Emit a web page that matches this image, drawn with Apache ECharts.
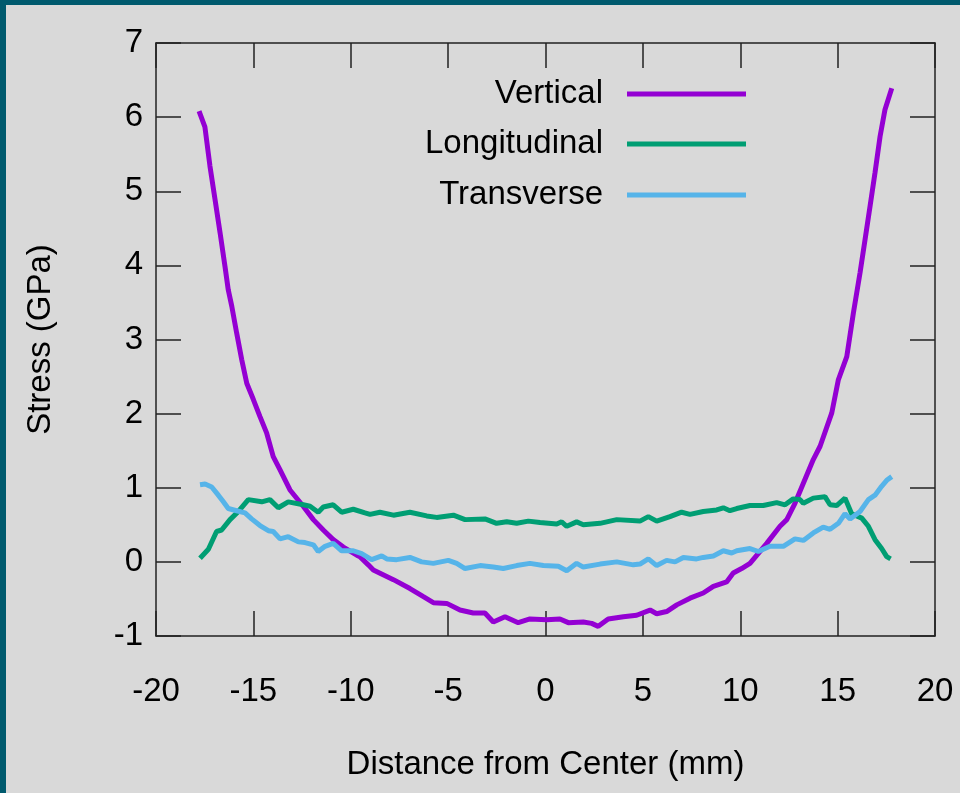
<!DOCTYPE html>
<html>
<head>
<meta charset="utf-8">
<script src="https://cdn.jsdelivr.net/npm/echarts@6/dist/echarts.min.js"></script>
<style>
html,body{margin:0;padding:0;background:#d9d9d9;}
#chart{position:absolute;left:0;top:0;width:960px;height:793px;}
#bl{position:absolute;left:0;top:0;width:6px;height:793px;background:#005a6e;pointer-events:none;}
#bt{position:absolute;left:0;top:0;width:960px;height:5px;background:#005a6e;pointer-events:none;}
</style>
</head>
<body>
<div id="chart"></div>
<div id="bl"></div>
<div id="bt"></div>
<script>
const seriesNames = ['Vertical', 'Longitudinal', 'Transverse'];

const vertX = [-17.79,-17.49,-17.23,-16.97,-16.71,-16.46,-16.29,-16.11,-15.86,-15.60,-15.34,-15.00,-14.66,-14.32,-13.98,-13.63,-13.12,-12.44,-11.92,-11.41,-10.90,-10.38,-9.69,-9.53,-9.10,-8.84,-7.81,-6.96,-6.27,-5.76,-5.07,-4.39,-3.71,-3.11,-2.68,-2.08,-1.40,-0.80,0.06,0.74,1.17,1.94,2.37,2.71,3.22,4.00,4.68,5.37,5.71,6.22,6.74,7.42,8.10,8.62,9.30,9.64,10.07,10.50,11.36,12.04,12.39,12.81,13.24,13.75,14.10,14.70,15.04,15.47,15.81,16.15,16.41,16.66,16.92,17.18,17.43,17.78];
const vertY = [6.08,5.87,5.34,4.89,4.44,3.99,3.67,3.45,3.09,2.73,2.41,2.19,1.96,1.74,1.42,1.24,0.97,0.75,0.57,0.43,0.30,0.20,0.09,0.07,-0.04,-0.11,-0.24,-0.36,-0.47,-0.55,-0.56,-0.65,-0.69,-0.69,-0.81,-0.74,-0.82,-0.77,-0.78,-0.77,-0.82,-0.81,-0.83,-0.87,-0.77,-0.74,-0.72,-0.65,-0.70,-0.67,-0.58,-0.49,-0.42,-0.33,-0.27,-0.15,-0.09,-0.02,0.25,0.48,0.57,0.79,1.06,1.38,1.56,2.01,2.46,2.77,3.36,3.90,4.35,4.79,5.25,5.74,6.10,6.39];

const longX = [-17.74,-17.31,-16.89,-16.63,-16.20,-15.77,-15.26,-14.57,-14.15,-13.72,-13.21,-12.44,-12.09,-11.67,-11.41,-10.90,-10.47,-9.87,-9.27,-9.01,-8.50,-7.81,-6.96,-6.10,-5.59,-4.73,-4.13,-3.11,-2.51,-1.99,-1.48,-0.88,-0.28,0.58,0.83,1.09,1.60,1.94,2.80,3.66,4.85,5.28,5.71,6.39,6.99,7.42,8.10,8.79,9.13,9.47,9.82,10.50,11.18,11.87,12.30,12.72,13.07,13.24,13.75,14.35,14.61,14.95,15.38,15.72,16.24,16.58,16.92,17.26,17.52,17.72];
const longY = [0.05,0.17,0.41,0.43,0.57,0.68,0.84,0.81,0.84,0.73,0.81,0.77,0.75,0.67,0.74,0.77,0.67,0.71,0.66,0.64,0.67,0.63,0.67,0.62,0.60,0.63,0.57,0.58,0.52,0.54,0.52,0.55,0.53,0.51,0.54,0.48,0.54,0.50,0.52,0.57,0.55,0.61,0.55,0.61,0.67,0.64,0.68,0.70,0.73,0.69,0.72,0.76,0.76,0.80,0.77,0.85,0.84,0.79,0.86,0.88,0.77,0.76,0.86,0.65,0.59,0.48,0.30,0.18,0.07,0.04];

const tranX = [-17.74,-17.48,-17.14,-16.80,-16.54,-16.29,-15.86,-15.43,-15.09,-14.66,-14.23,-13.98,-13.63,-13.21,-12.69,-12.35,-11.92,-11.67,-11.32,-10.90,-10.47,-9.87,-9.44,-8.93,-8.41,-8.15,-7.64,-6.96,-6.36,-5.76,-4.99,-4.56,-4.13,-3.36,-2.68,-2.17,-1.48,-0.80,-0.11,0.66,1.09,1.60,1.94,2.80,3.66,4.51,4.85,5.28,5.71,6.22,6.65,7.08,7.76,8.10,8.62,9.13,9.56,9.82,10.50,10.93,11.53,12.21,12.81,13.24,13.75,14.26,14.61,15.04,15.38,15.64,16.15,16.58,16.92,17.26,17.52,17.78];
const tranY = [1.04,1.05,1.01,0.90,0.81,0.72,0.69,0.66,0.58,0.49,0.42,0.41,0.31,0.34,0.27,0.26,0.23,0.14,0.21,0.25,0.15,0.15,0.11,0.03,0.08,0.04,0.03,0.06,0.00,-0.02,0.02,-0.02,-0.09,-0.05,-0.07,-0.09,-0.05,-0.02,-0.05,-0.06,-0.12,-0.02,-0.07,-0.03,0.00,-0.04,-0.03,0.04,-0.05,0.02,0.00,0.06,0.04,0.06,0.08,0.15,0.12,0.15,0.18,0.14,0.21,0.21,0.31,0.29,0.39,0.47,0.44,0.52,0.65,0.58,0.68,0.84,0.90,1.02,1.10,1.15];

const xTicks = [-20,-15,-10,-5,0,5,10,15,20];
const yTicks = [-1,0,1,2,3,4,5,6,7];

const colors = ['#9400d3', '#009e73', '#56b4e9'];
const FONT = 'Liberation Sans';
const zip = (xs, ys) => xs.map((x, i) => [x, ys[i]]);
const dataSets = [zip(vertX, vertY), zip(longX, longY), zip(tranX, tranY)];

const axisLineStyle = { color: '#222', width: 1.5 };
const tickStyle = { show: true, inside: true, length: 25, lineStyle: { color: '#222', width: 1.5 } };

const chart = echarts.init(document.getElementById('chart'), null, { renderer: 'canvas' });
const legendTops = [71, 121, 172];
chart.setOption({
  backgroundColor: '#d9d9d9',
  animation: false,
  grid: { left: 156, right: 25, top: 43, bottom: 157 },
  legend: seriesNames.map((n, i) => ({
    data: [n],
    right: 209,
    top: legendTops[i],
    align: 'right',
    orient: 'vertical',
    icon: 'rect',
    itemWidth: 119,
    itemHeight: 5,
    selectedMode: false,
    textStyle: { fontFamily: FONT, fontSize: 33, color: '#000', padding: [0, 19, 0, 0], lineHeight: 36 }
  })),
  xAxis: [{
    type: 'value', min: xTicks[0], max: xTicks[xTicks.length - 1], interval: 5,
    name: 'Distance from Center (mm)', nameLocation: 'middle', nameGap: 112,
    nameTextStyle: { fontFamily: FONT, fontSize: 33, color: '#000' },
    axisLine: { show: true, onZero: false, lineStyle: axisLineStyle },
    axisTick: tickStyle,
    axisLabel: { fontFamily: FONT, fontSize: 33, color: '#000', margin: 39 },
    splitLine: { show: false }
  }, {
    type: 'value', position: 'top', min: xTicks[0], max: xTicks[xTicks.length - 1], interval: 5,
    axisLine: { show: true, onZero: false, lineStyle: axisLineStyle },
    axisTick: tickStyle, axisLabel: { show: false }, splitLine: { show: false }
  }],
  yAxis: [{
    type: 'value', min: yTicks[0], max: yTicks[yTicks.length - 1], interval: 1,
    name: 'Stress (GPa)', nameLocation: 'middle', nameGap: 99, nameRotate: 90,
    nameTextStyle: { fontFamily: FONT, fontSize: 33, color: '#000' },
    axisLine: { show: true, onZero: false, lineStyle: axisLineStyle },
    axisTick: tickStyle,
    axisLabel: { fontFamily: FONT, fontSize: 33, color: '#000', margin: 13 },
    splitLine: { show: false }
  }, {
    type: 'value', position: 'right', min: yTicks[0], max: yTicks[yTicks.length - 1], interval: 1,
    axisLine: { show: true, onZero: false, lineStyle: axisLineStyle },
    axisTick: tickStyle, axisLabel: { show: false }, splitLine: { show: false }
  }],
  series: seriesNames.map((n, i) => ({
    name: n, type: 'line', data: dataSets[i],
    showSymbol: false, symbol: 'none',
    lineStyle: { color: colors[i], width: 5 },
    itemStyle: { color: colors[i] },
    z: 2 + i
  }))
});
</script>
</body>
</html>
